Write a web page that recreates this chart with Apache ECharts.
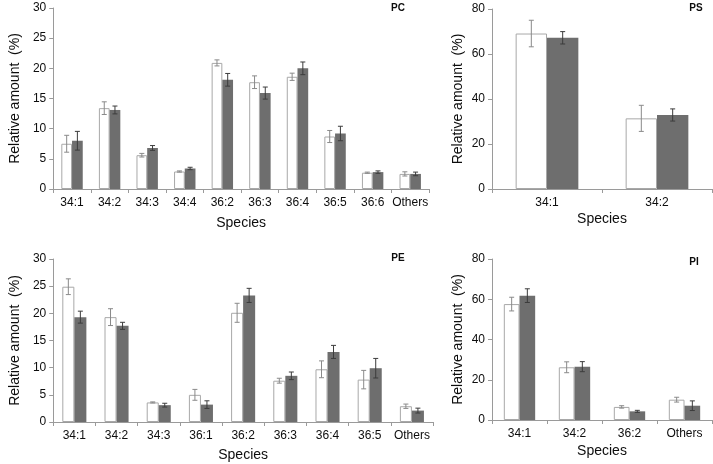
<!DOCTYPE html>
<html><head><meta charset="utf-8">
<script src="https://cdn.jsdelivr.net/npm/echarts@6/dist/echarts.min.js"></script>
<style>html,body{margin:0;padding:0;background:#fff}#c{width:713px;height:464px}</style>
</head><body><div id="c"></div>
<script>
// ---- Data ----
const pcCats = ['34:1','34:2','34:3','34:4','36:2','36:3','36:4','36:5','36:6','Others'];
const pcA = [7.5, 13.4, 5.6, 2.9, 20.9, 17.7, 18.6, 8.7, 2.7, 2.5];
const pcAErr = [1.4, 1.05, 0.3, 0.1, 0.5, 1.05, 0.6, 1.0, 0.1, 0.35];
const pcB = [8.0, 13.1, 6.8, 3.4, 18.1, 15.9, 20.0, 9.2, 2.8, 2.5];
const pcBErr = [1.55, 0.65, 0.4, 0.2, 1.05, 1.0, 1.05, 1.2, 0.2, 0.3];

const psCats = ['34:1','34:2'];
const psA = [69.1, 31.4];
const psAErr = [5.9, 5.8];
const psB = [67.2, 32.9];
const psBErr = [2.75, 2.7];

const peCats = ['34:1','34:2','34:3','36:1','36:2','36:3','36:4','36:5','Others'];
const peA = [24.9, 19.3, 3.6, 5.0, 20.1, 7.6, 9.7, 7.8, 2.9];
const peAErr = [1.45, 1.55, 0.1, 1.0, 1.75, 0.45, 1.55, 1.7, 0.4];
const peB = [19.3, 17.7, 3.1, 3.2, 23.3, 8.5, 12.9, 9.9, 2.1];
const peBErr = [1.1, 0.65, 0.35, 0.7, 1.3, 0.7, 1.2, 1.8, 0.45];

const piCats = ['34:1','34:2','36:2','Others'];
const piA = [57.6, 26.2, 6.5, 10.1];
const piAErr = [3.4, 2.7, 0.6, 1.2];
const piB = [61.8, 26.5, 4.3, 7.1];
const piBErr = [3.4, 2.5, 0.5, 2.4];

const pcTicks = {min:0, max:30, interval:5};
const psTicks = {min:0, max:80, interval:20};
const peTicks = {min:0, max:30, interval:5};
const piTicks = {min:0, max:80, interval:20};

// ---- Styles ----
const FONT = 'Liberation Sans, Arial, sans-serif';
const TXT = '#0d0d0d';
const AX = '#9a9a9a';
const GAP = 0.43;

const panels = [
  {cats: pcCats, a: pcA, ae: pcAErr, b: pcB, be: pcBErr, t: pcTicks, grid:{left:43, top:8, width:386, height:181}, yGap:28, xGap:27},
  {cats: psCats, a: psA, ae: psAErr, b: psB, be: psBErr, t: psTicks, grid:{left:492, top:9, width:220, height:180}, yGap:27, xGap:23},
  {cats: peCats, a: peA, ae: peAErr, b: peB, be: peBErr, t: peTicks, grid:{left:43, top:259, width:390, height:163}, yGap:28, xGap:26},
  {cats: piCats, a: piA, ae: piAErr, b: piB, be: piBErr, t: piTicks, grid:{left:492, top:259, width:220, height:161}, yGap:27, xGap:24}
];

const grid = [], xAxis = [], yAxis = [], series = [];
panels.forEach((p, i) => {
  grid.push(p.grid);
  xAxis.push({
    type:'category', gridIndex:i, data:p.cats,
    name:'Species', nameLocation:'middle', nameGap:p.xGap,
    nameTextStyle:{fontFamily:FONT, fontSize:14, color:TXT},
    axisLine:{lineStyle:{color:AX, width:1}},
    axisTick:{show:true, length:4, lineStyle:{color:AX}},
    axisLabel:{fontFamily:FONT, fontSize:12, color:TXT, margin:8, interval:0},
    splitLine:{show:false}
  });
  yAxis.push({
    type:'value', gridIndex:i, min:p.t.min, max:p.t.max, interval:p.t.interval,
    name:'Relative amount  (%)', nameLocation:'middle', nameGap:p.yGap,
    nameTextStyle:{fontFamily:FONT, fontSize:14, color:TXT},
    axisLine:{show:true, lineStyle:{color:AX, width:1}},
    axisTick:{show:true, length:4, lineStyle:{color:AX}},
    axisLabel:{fontFamily:FONT, fontSize:12, color:TXT, margin:7},
    splitLine:{show:false}
  });
  series.push({
    type:'bar', xAxisIndex:i, yAxisIndex:i, data:p.a, barGap:'0%', barCategoryGap:(GAP*100)+'%',
    itemStyle:{color:'#ffffff', borderColor:'#a8a8a8', borderWidth:1}, silent:true
  });
  series.push({
    type:'bar', xAxisIndex:i, yAxisIndex:i, data:p.b, barGap:'0%', barCategoryGap:(GAP*100)+'%',
    itemStyle:{color:'#6e6e6e'}, silent:true
  });
  const mkErr = (vals, errs, side, color) => ({
    type:'custom', xAxisIndex:i, yAxisIndex:i, silent:true, z:5,
    data: vals.map((v, k) => [k, v, errs[k]]),
    renderItem: function(params, api){
      const k = api.value(0), v = api.value(1), e = api.value(2);
      const band = api.size([1, 0])[0];
      const bw = band * (1 - GAP) / 2;
      const c = api.coord([k, v]);
      const x = c[0] + side * bw / 2;
      const top = api.coord([k, v + e])[1];
      const bot = api.coord([k, v - e])[1];
      const cap = 2.5;
      const st = {stroke: color, lineWidth: 1};
      return {type:'group', children:[
        {type:'line', shape:{x1:x, y1:top, x2:x, y2:bot}, style:st},
        {type:'line', shape:{x1:x-cap, y1:top, x2:x+cap, y2:top}, style:st},
        {type:'line', shape:{x1:x-cap, y1:bot, x2:x+cap, y2:bot}, style:st}
      ]};
    }
  });
  series.push(mkErr(p.a, p.ae, -1, '#8a8a8a'));
  series.push(mkErr(p.b, p.be, 1, '#3c3c3c'));
});

const titles = [
  {text:'PC', x:398, y:8},
  {text:'PS', x:696, y:8},
  {text:'PE', x:398, y:258},
  {text:'PI', x:694, y:262}
];

const chart = echarts.init(document.getElementById('c'), null, {renderer:'canvas'});
chart.setOption({
  animation:false,
  backgroundColor:'#ffffff',
  grid, xAxis, yAxis, series,
  graphic: titles.map(t => ({
    type:'text', x:t.x, y:t.y,
    style:{text:t.text, fontFamily:FONT, fontSize:10, fontWeight:'bold', fill:TXT, align:'center', verticalAlign:'middle'}
  }))
});
</script>
</body></html>
